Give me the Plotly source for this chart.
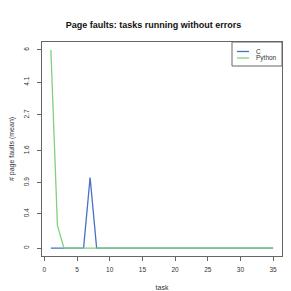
import numpy as np
import plotly.graph_objects as go

tasks = list(range(1, 36))
c_values = [0, 0, 0, 0, 0, 0, 1] + [0] * 28
python_values = [6, 0.25] + [0] * 33
y_tick_labels = ["0", "0.4", "0.9", "1.6", "2.7", "4.1", "6"]
x_ticks = [0, 5, 10, 15, 20, 25, 30, 35]
series_names = ["C", "Python"]
series_colors = ["#4472C4", "#7FD07F"]

def tr(v):
    return np.log1p(np.array(v, dtype=float))

font = "Liberation Sans, Arial, sans-serif"
axis_col = "#666666"

fig = go.Figure()
for name, vals, col in zip(series_names, [c_values, python_values], series_colors):
    fig.add_trace(go.Scatter(x=tasks, y=tr(vals), mode="lines", name=name,
                             line=dict(color=col, width=1.3), showlegend=False))

ymax = float(np.log1p(6))
yext = ymax * 0.04
xext = 34 * 0.04

W = H = 291
L, R, T, B = 34, 17, 34, 43
pw, ph = W - L - R, H - T - B

def px2paper_x(px):
    return (px - L) / pw

def px2paper_y(py):
    return (H - B - py) / ph

# manual compact legend (R style)
shapes = [dict(type="rect", xref="paper", yref="paper",
               x0=px2paper_x(224), x1=1, y0=px2paper_y(58), y1=1,
               line=dict(color=axis_col, width=1), fillcolor="white", layer="above")]
annotations = []
for i, (name, col) in enumerate(zip(series_names, series_colors)):
    yy = px2paper_y(43.5 + i * 6.5)
    shapes.append(dict(type="line", xref="paper", yref="paper",
                       x0=px2paper_x(229), x1=px2paper_x(241), y0=yy, y1=yy,
                       line=dict(color=col, width=1.3), layer="above"))
    annotations.append(dict(text=name, xref="paper", yref="paper",
                            x=px2paper_x(246), y=yy, xanchor="left", yanchor="middle",
                            showarrow=False, font=dict(size=6.5, color="#333333")))

fig.update_layout(
    width=W, height=H,
    margin=dict(l=L, r=R, t=T, b=B, autoexpand=False),
    paper_bgcolor="white", plot_bgcolor="white",
    font=dict(family=font, size=7, color="#222222"),
    title=dict(text="<b>Page faults: tasks running without errors</b>",
               x=0.5, xanchor="center", y=1 - 17 / H, yanchor="middle",
               font=dict(size=9, color="#111111")),
    xaxis=dict(range=[1 - xext, 35 + xext], tickvals=x_ticks, automargin=False,
               showgrid=False, zeroline=False, showline=True, mirror=True,
               linecolor=axis_col, linewidth=1,
               ticks="outside", ticklen=4, tickcolor=axis_col,
               ticklabelstandoff=3,
               tickfont=dict(size=6.5, color="#333333"),
               title=dict(text="task", font=dict(size=7, color="#333333"), standoff=13)),
    yaxis=dict(range=[-yext, ymax + yext], automargin=False,
               tickvals=list(tr([0, 0.4, 0.9, 1.6, 2.7, 4.1, 6])),
               ticktext=y_tick_labels, tickangle=-90,
               showgrid=False, zeroline=False, showline=True, mirror=True,
               linecolor=axis_col, linewidth=1,
               ticks="outside", ticklen=4, tickcolor=axis_col,
               ticklabelstandoff=5,
               tickfont=dict(size=6.5, color="#333333"),
               title=dict(text="# page faults (mean)", font=dict(size=7, color="#333333"), standoff=9)),
    shapes=shapes,
    annotations=annotations,
    showlegend=False,
)

fig.write_html("out.html")
